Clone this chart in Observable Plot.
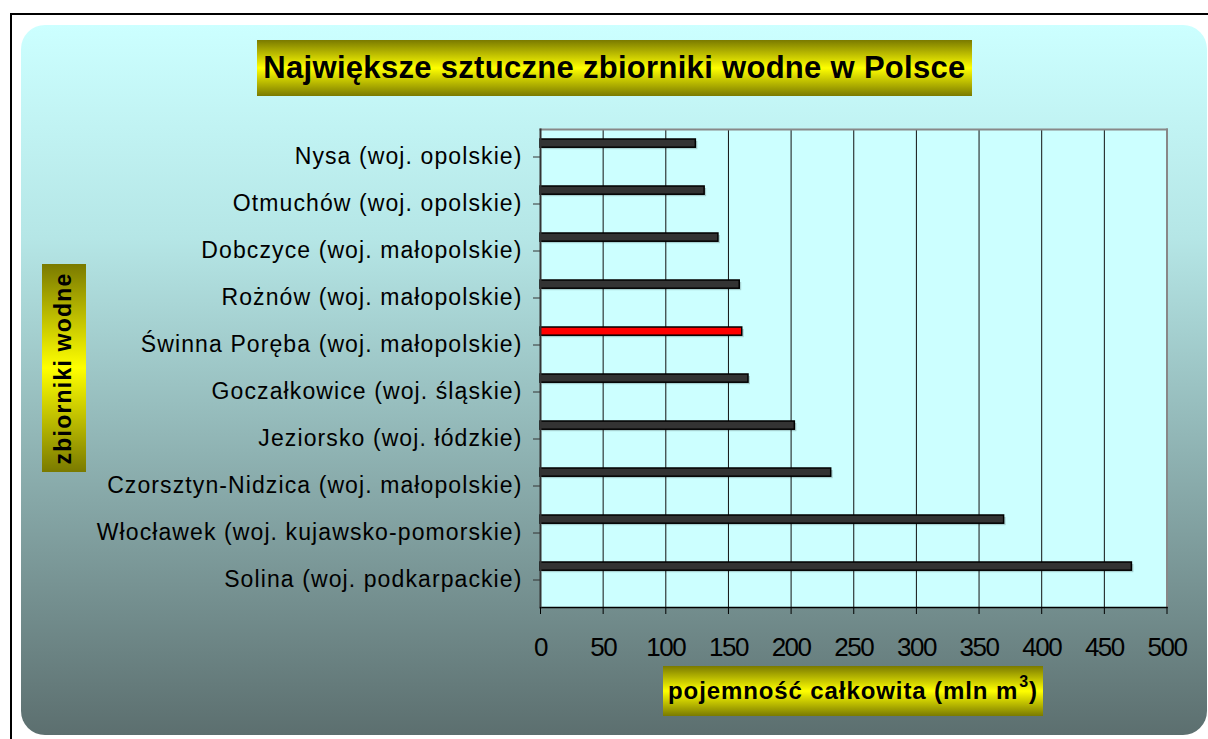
<!DOCTYPE html>
<html>
<head>
<meta charset="utf-8">
<script src="https://cdn.jsdelivr.net/npm/d3@7"></script>
<script src="https://cdn.jsdelivr.net/npm/@observablehq/plot@0.6"></script>
<style>
  html, body { margin: 0; padding: 0; background: #ffffff; overflow: hidden; }
  #page { position: relative; width: 1208px; height: 739px; overflow: hidden; font-family: Arial, "Liberation Sans", sans-serif; }
  #outer { position: absolute; left: 10px; top: 13px; width: 1300px; height: 800px; border: 2px solid #000; box-sizing: border-box; }
  #panel { position: absolute; left: 21px; top: 25px; width: 1186px; height: 710px; border-radius: 24px;
           background: linear-gradient(to bottom, #ccffff 0%, #b5e6e6 30%, #8fb3b3 60%, #5c6f6f 100%); }
  #chart { position: absolute; left: 0; top: 0; }
  .box { position: absolute; display: flex; align-items: center; justify-content: center; font-weight: bold; color: #000; white-space: nowrap; }
  #title { left: 257px; top: 40px; width: 715px; height: 56px; font-size: 31px; letter-spacing: 0.3px;
           background: linear-gradient(to bottom, #7a7a00 0%, #ffff00 50%, #7a7a00 100%); }
  #xtitle { left: 663px; top: 666px; width: 380px; height: 50px; font-size: 24px; letter-spacing: 0.9px;
            background: linear-gradient(to bottom, #7a7a00 0%, #ffff00 50%, #7a7a00 100%); }
  #xtitle .sup { font-size: 16px; position: relative; top: -9px; letter-spacing: 0; margin-left: 1px; margin-right: 1px; }
  #ytitle { left: 42px; top: 264px; width: 44px; height: 208px;
            background: linear-gradient(to bottom, #7a7a00 0%, #ffff00 50%, #7a7a00 100%); }
  #ytitle span { display: inline-block; transform: rotate(-90deg); font-size: 23px; letter-spacing: 1.2px; }
  g[aria-label="y-axis tick label"] text { letter-spacing: 1.1px; }
  g[aria-label="x-axis tick label"] text { letter-spacing: -1.5px; }
</style>
</head>
<body>
<div id="page">
  <div id="outer"></div>
  <div id="panel"></div>
  <div id="chart"></div>
  <div id="title" class="box">Największe sztuczne zbiorniki wodne w Polsce</div>
  <div id="ytitle" class="box"><span>zbiorniki wodne</span></div>
  <div id="xtitle" class="box">pojemność całkowita (mln m<span class="sup">3</span>)</div>
</div>
<script>
// Data (capacity in mln m³)
const reservoirs = [
  "Nysa (woj. opolskie)",
  "Otmuchów (woj. opolskie)",
  "Dobczyce (woj. małopolskie)",
  "Rożnów (woj. małopolskie)",
  "Świnna Poręba (woj. małopolskie)",
  "Goczałkowice (woj. śląskie)",
  "Jeziorsko (woj. łódzkie)",
  "Czorsztyn-Nidzica (woj. małopolskie)",
  "Włocławek (woj. kujawsko-pomorskie)",
  "Solina (woj. podkarpackie)"
];
const capacity = [124, 131, 142, 159, 161, 166, 203, 232, 370, 472];
const highlighted = "Świnna Poręba (woj. małopolskie)";
const xTicks = [0, 50, 100, 150, 200, 250, 300, 350, 400, 450, 500];
const gridTicks = [50, 100, 150, 200, 250, 300, 350, 400, 450];

const data = reservoirs.map((name, i) => ({name, value: capacity[i]}));

const bandH = (607 - 129) / reservoirs.length;

const chart = Plot.plot({
  width: 1208,
  height: 739,
  marginLeft: 540,
  marginRight: 41.5,
  marginTop: 129,
  marginBottom: 132,
  style: {background: "transparent", fontFamily: "Arial, 'Liberation Sans', sans-serif", color: "#000", overflow: "visible"},
  x: {domain: [0, 500]},
  y: {domain: reservoirs, padding: 0},
  marks: [
    Plot.frame({fill: "#ccffff", stroke: null}),
    Plot.ruleX(gridTicks, {stroke: "#111", strokeWidth: 1}),
    Plot.frame({anchor: "top", stroke: "#888", strokeWidth: 2}),
    Plot.frame({anchor: "right", stroke: "#888", strokeWidth: 2}),
    Plot.barX(data, {x: "value", y: "name", fill: "#000", fillOpacity: 0.18, dx: 2, dy: 2,
      insetTop: 6, insetBottom: bandH - 15}),
    Plot.barX(data, {x: "value", y: "name",
      fill: d => d.name === highlighted ? "#ff0000" : "#333333",
      stroke: "#000", strokeWidth: 1.5,
      insetTop: 6, insetBottom: bandH - 15}),
    Plot.frame({anchor: "bottom", stroke: "#000", strokeWidth: 1.5}),
    Plot.frame({anchor: "left", stroke: "#333", strokeWidth: 2}),
    Plot.axisX({ticks: xTicks, tickSize: 7, tickPadding: 23, fontSize: 26, label: null, stroke: "#000"}),
    Plot.axisY({tickSize: 7, tickPadding: 11, fontSize: 23, label: null, stroke: "#333"})
  ]
});
document.getElementById("chart").appendChild(chart);
</script>
</body>
</html>
